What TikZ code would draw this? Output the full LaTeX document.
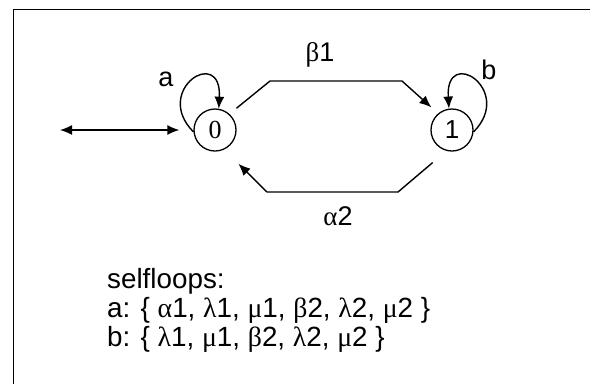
\documentclass[tikz,border=0pt]{standalone}
\usepackage{fontspec}
\setmainfont{Liberation Sans}
\newfontfamily\grk{Liberation Serif}
\usetikzlibrary{arrows.meta}
\begin{document}
\begin{tikzpicture}[x=1pt,y=-1pt,
  state/.style={circle,draw,line width=1.3pt,minimum size=42pt,inner sep=0pt,font=\fontsize{26}{30}\selectfont},
  edge/.style={line width=1.4pt,-{Latex[length=12pt,width=10pt]}},
  lbl/.style={font=\fontsize{27}{32}\selectfont,anchor=base,inner sep=0pt},
  txt/.style={font=\fontsize{27.8}{33}\selectfont,anchor=base west,inner sep=0pt}]
\useasboundingbox (0,0) rectangle (599,384);
\draw[line width=1pt] (590,9) -- (13,9) -- (13,384);

\node[state] (n0) at (215,130) {\grk 0};
\node[state] (n1) at (452,130) {1};

\coordinate (in0) at (60,130);
\draw[line width=1.4pt,{Latex[length=12pt,width=10pt]}-{Latex[length=12pt,width=10pt]},shorten >=14pt] (in0) -- (n0.west);

\draw[edge] (n0.185) .. controls (152,90) and (222,45) .. (n0.80);
\draw[edge] (n1.-5) .. controls (515,90) and (445,45) .. (n1.98);

\coordinate (b1) at (270,81);
\coordinate (b2) at (402,81);
\draw[edge,shorten <=9pt,shorten >=9pt] (n0.48) -- (b1) -- (b2) -- (n1.130);

\coordinate (a1) at (398,192);
\coordinate (a2) at (267,192);
\draw[edge,shorten <=18pt,shorten >=20pt] (n1.255) -- (a1) -- (a2) -- (n0.295);

\node[lbl] (la) at (166,86) {a};
\node[lbl] (lb) at (489,79) {b};
\node[lbl] (lbeta) at (320,61) {{\grk β}1};
\node[lbl] (lalpha) at (338,225) {{\grk α}2};

\node[txt] (t1) at (107,288) {selfloops:};
\node[txt] (t2) at (107,317) {a: \{ {\grk α}1, {\grk λ}1, {\grk μ}1, {\grk β}2, {\grk λ}2, {\grk μ}2 \}};
\node[txt] (t3) at (107,346) {b: \{ {\grk λ}1, {\grk μ}1, {\grk β}2, {\grk λ}2, {\grk μ}2 \}};
\end{tikzpicture}
\end{document}
